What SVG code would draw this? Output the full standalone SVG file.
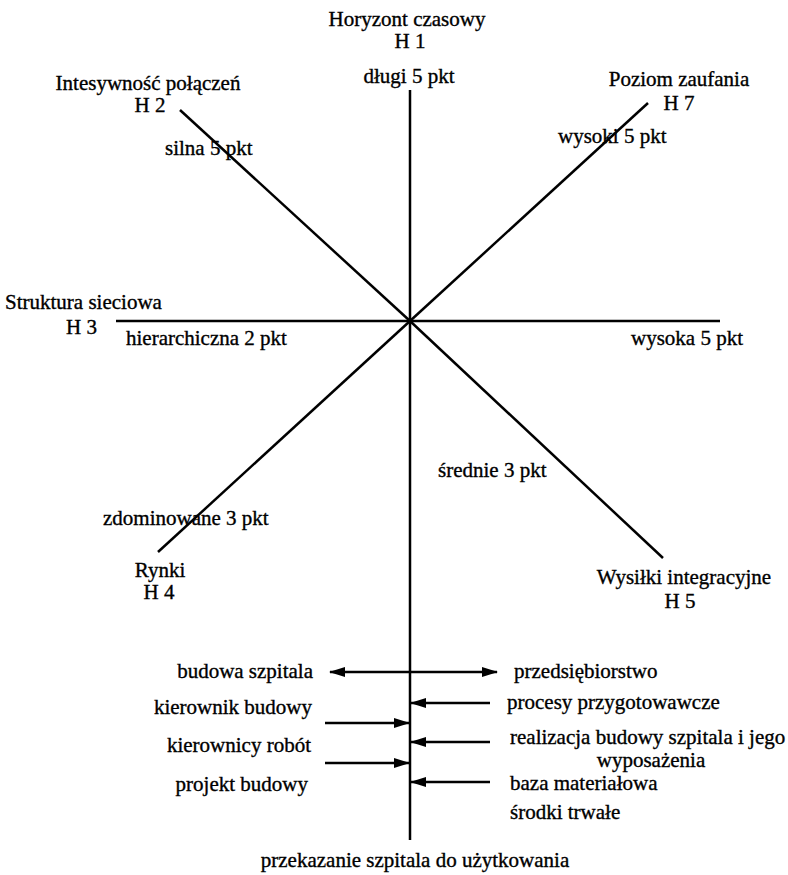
<svg xmlns="http://www.w3.org/2000/svg" width="788" height="875" viewBox="0 0 788 875">
<style>
text{font-family:"Liberation Serif","Times New Roman",serif;font-size:21px;fill:#000;stroke:#000;stroke-width:0.35}
.m{text-anchor:middle}
.e{text-anchor:end}
.ln{stroke:#000;stroke-width:2.5;fill:none}
</style>
<defs>
<marker id="ah" markerUnits="userSpaceOnUse" markerWidth="16" markerHeight="10" refX="15" refY="5" orient="auto-start-reverse">
<path d="M0,0 L16,5 L0,10 Z" fill="#000"/>
</marker>
</defs>
<rect width="788" height="875" fill="#fff"/>
<g id="connectors">
<line class="ln" x1="410" y1="90" x2="410" y2="840"/>
<line class="ln" x1="116" y1="321" x2="720" y2="321"/>
<line class="ln" x1="180" y1="110" x2="410" y2="321"/>
<line class="ln" x1="648" y1="103" x2="410" y2="321"/>
<line class="ln" x1="410" y1="321" x2="158" y2="552"/>
<line class="ln" x1="410" y1="321" x2="663" y2="558"/>
<line class="ln" x1="330" y1="672" x2="497" y2="672" marker-start="url(#ah)" marker-end="url(#ah)"/>
<line class="ln" x1="490" y1="703" x2="411" y2="703" marker-end="url(#ah)"/>
<line class="ln" x1="325" y1="723" x2="409" y2="723" marker-end="url(#ah)"/>
<line class="ln" x1="490" y1="742" x2="411" y2="742" marker-end="url(#ah)"/>
<line class="ln" x1="325" y1="763" x2="409" y2="763" marker-end="url(#ah)"/>
<line class="ln" x1="490" y1="782" x2="411" y2="782" marker-end="url(#ah)"/>
</g>
<g id="h1"><text class="m" x="407" y="26">Horyzont czasowy</text><text class="m" x="410" y="48">H 1</text><text class="m" x="409" y="83">długi 5 pkt</text></g>
<g id="h2"><text class="m" x="148" y="90">Intesywność połączeń</text><text class="m" x="150" y="112">H 2</text><text x="165" y="155">silna 5 pkt</text></g>
<g id="h7"><text class="m" x="679" y="86">Poziom zaufania</text><text class="m" x="679" y="110">H 7</text><text x="558" y="143">wysoki 5 pkt</text></g>
<g id="h3"><text x="5" y="309">Struktura sieciowa</text><text x="66" y="334">H 3</text><text x="126" y="345">hierarchiczna 2 pkt</text></g>
<g id="h6"><text x="631" y="345">wysoka 5 pkt</text></g>
<g id="h5"><text x="438" y="477">średnie 3 pkt</text><text class="m" x="684" y="584">Wysiłki integracyjne</text><text class="m" x="680" y="608">H 5</text></g>
<g id="h4"><text x="103" y="525">zdominowane 3 pkt</text><text class="m" x="160" y="577">Rynki</text><text class="m" x="159" y="599">H 4</text></g>
<g id="left-labels">
<text class="e" x="313" y="678">budowa szpitala</text>
<text class="e" x="312" y="714">kierownik budowy</text>
<text class="e" x="311" y="752">kierownicy robót</text>
<text class="e" x="308" y="791">projekt budowy</text>
</g>
<g id="right-labels">
<text x="514" y="678">przedsiębiorstwo</text>
<text x="507" y="709">procesy przygotowawcze</text>
<text x="510" y="744">realizacja budowy szpitala i jego</text>
<text class="m" x="651" y="767">wyposażenia</text>
<text x="510" y="790">baza materiałowa</text>
<text x="510" y="819">środki trwałe</text>
</g>
<g id="end"><text class="m" x="415" y="867">przekazanie szpitala do użytkowania</text></g>
</svg>
